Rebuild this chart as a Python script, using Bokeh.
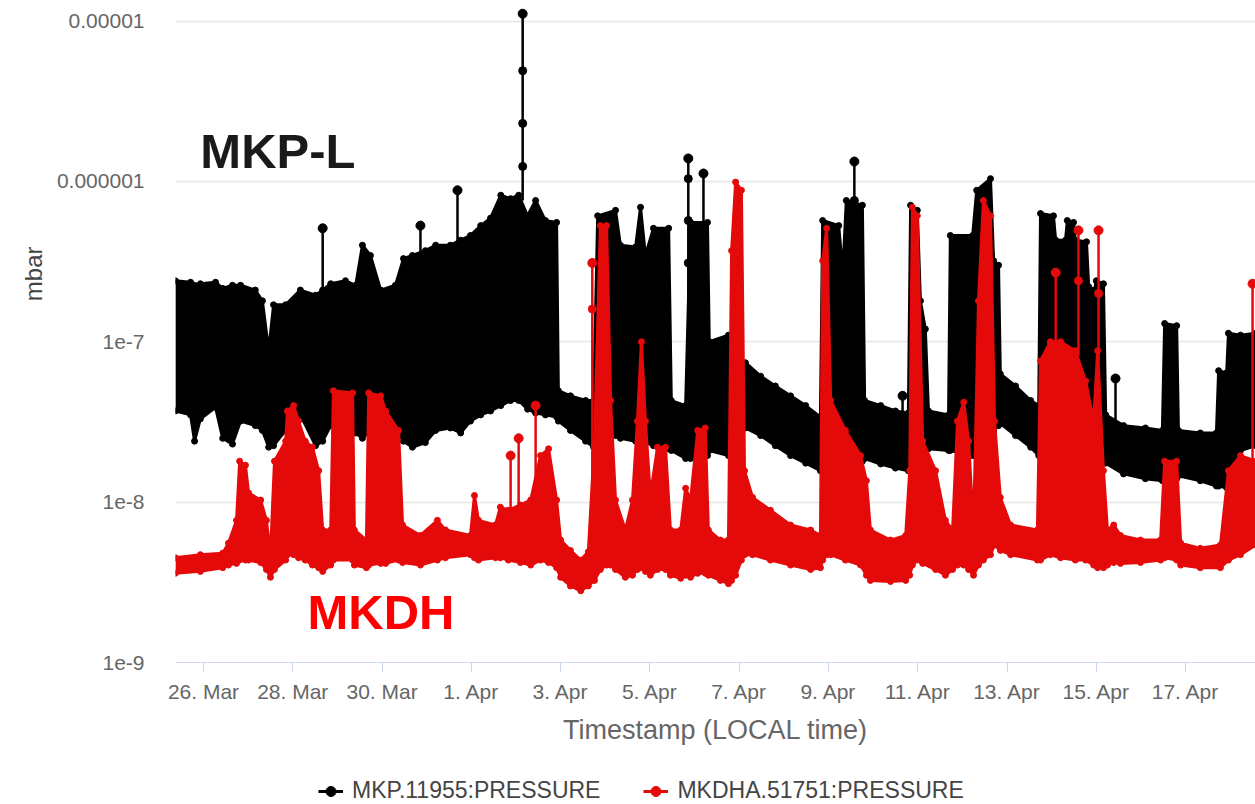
import numpy as np
import pandas as pd
from bokeh.plotting import figure
from bokeh.layouts import column
from bokeh.models import (ColumnDataSource, FixedTicker, Legend, LegendItem,
                          Range1d, Label, Title)
from bokeh.embed import file_html
from bokeh.resources import INLINE

# ---------------- data (time = days after 26 Mar 00:00, local time) ----------------
tick_days = [0, 2, 4, 6, 8, 10, 12, 14, 16, 18, 20, 22]
tick_labels = ["26. Mar", "28. Mar", "30. Mar", "1. Apr", "3. Apr", "5. Apr",
               "7. Apr", "9. Apr", "11. Apr", "13. Apr", "15. Apr", "17. Apr"]
y_ticks = [1e-9, 1e-8, 1e-7, 1e-6, 1e-5]
y_tick_labels = ["1e-9", "1e-8", "1e-7", "0.000001", "0.00001"]
series_names = ["MKP.11955:PRESSURE", "MKDHA.51751:PRESSURE"]

# MKP.11955:PRESSURE  (band envelope of the fast oscillation)
mkp_t = [-0.63, -0.29, -0.20, -0.07, 0.27, 0.43, 0.65, 0.83, 1.16, 1.32,
         1.46, 1.57, 1.84, 2.17, 2.51, 2.67, 2.85, 3.18, 3.41, 3.56,
         3.74, 3.97, 4.30, 4.48, 4.68, 4.97, 5.20, 5.53, 5.76, 5.98,
         6.21, 6.43, 6.66, 6.88, 7.06, 7.26, 7.44, 7.66, 7.91, 7.95,
         8.22, 8.56, 8.74, 8.83, 9.23, 9.34, 9.68, 9.79, 9.90, 10.08,
         10.42, 10.48, 10.80, 10.91, 11.29, 11.33, 11.76, 11.87, 12.14, 12.48,
         12.81, 13.15, 13.49, 13.82, 13.87, 14.23, 14.32, 14.40, 14.76, 14.81,
         15.17, 15.50, 15.79, 15.84, 15.99, 16.06, 16.17, 16.24, 16.69, 16.73,
         17.23, 17.32, 17.63, 17.70, 17.81, 17.85, 18.19, 18.53, 18.71, 18.75,
         19.04, 19.09, 19.31, 19.35, 19.49, 19.53, 19.78, 19.83, 19.96, 20.00,
         20.16, 20.21, 20.61, 21.10, 21.48, 21.53, 21.80, 21.84, 22.33, 22.69,
         22.74, 22.92, 22.96, 23.23, 23.57]
mkp_hi = [2.4e-7, 2.35e-7, 2.25e-7, 2.3e-7, 2.35e-7, 2.15e-7, 2.25e-7, 2.25e-7, 2.1e-7, 1.8e-7,
          8.8e-8, 1.7e-7, 1.7e-7, 2.1e-7, 1.95e-7, 2.1e-7, 2.3e-7, 2.4e-7, 2.25e-7, 4.0e-7,
          3.45e-7, 2.1e-7, 2.25e-7, 3.3e-7, 3.45e-7, 3.7e-7, 4.0e-7, 4.0e-7, 4.3e-7, 4.6e-7,
          5.3e-7, 5.9e-7, 8.2e-7, 7.8e-7, 8.2e-7, 6.1e-7, 7.6e-7, 5.7e-7, 5.55e-7, 4.95e-8,
          4.6e-8, 4.3e-8, 4.3e-8, 6.1e-7, 6.6e-7, 4.0e-7, 3.9e-7, 6.9e-7, 3.45e-7, 5.1e-7,
          5.1e-7, 4.3e-8, 4.0e-8, 5.55e-7, 5.55e-7, 1.0e-7, 1.1e-7, 7.6e-8, 7.4e-8, 6.1e-8,
          5.3e-8, 4.6e-8, 4.0e-8, 3.4e-8, 5.7e-7, 5.3e-7, 2.7e-7, 7.6e-7, 7.1e-7, 4.3e-8,
          4.0e-8, 3.7e-8, 3.6e-8, 7.1e-7, 6.6e-7, 1.8e-7, 1.2e-7, 3.7e-8, 3.5e-8, 4.6e-7,
          4.6e-7, 8.8e-7, 1.04e-6, 3.2e-7, 3.0e-7, 6.3e-8, 5.3e-8, 4.3e-8, 4.0e-8, 6.3e-7,
          6.1e-7, 4.3e-7, 4.3e-7, 5.7e-7, 5.55e-7, 4.3e-7, 4.2e-7, 2.2e-7, 2.1e-7, 2.4e-7,
          2.3e-7, 3.5e-8, 3.0e-8, 2.9e-8, 2.8e-8, 1.3e-7, 1.26e-7, 2.8e-8, 2.7e-8, 2.7e-8,
          6.6e-8, 6.4e-8, 1.13e-7, 1.1e-7, 1.13e-7]
mkp_lo = [3.7e-8, 3.5e-8, 2.4e-8, 3.3e-8, 3.9e-8, 2.5e-8, 2.3e-8, 3.2e-8, 3.0e-8, 2.8e-8,
          2.2e-8, 2.25e-8, 2.8e-8, 3.5e-8, 2.25e-8, 2.4e-8, 3.0e-8, 2.9e-8, 2.7e-8, 2.5e-8,
          2.8e-8, 3.0e-8, 2.9e-8, 2.4e-8, 2.2e-8, 2.35e-8, 2.8e-8, 2.9e-8, 2.7e-8, 3.2e-8,
          3.5e-8, 3.7e-8, 4.0e-8, 4.3e-8, 4.3e-8, 3.8e-8, 3.6e-8, 3.5e-8, 3.4e-8, 3.2e-8,
          2.8e-8, 2.4e-8, 2.2e-8, 2.4e-8, 2.6e-8, 2.5e-8, 2.4e-8, 2.4e-8, 2.35e-8, 2.25e-8,
          2.15e-8, 2.1e-8, 1.87e-8, 1.87e-8, 1.95e-8, 2.1e-8, 1.95e-8, 2.4e-8, 2.9e-8, 2.6e-8,
          2.25e-8, 1.95e-8, 1.75e-8, 1.57e-8, 1.57e-8, 1.7e-8, 1.7e-8, 1.75e-8, 1.8e-8, 1.87e-8,
          1.73e-8, 1.63e-8, 1.57e-8, 1.57e-8, 1.7e-8, 1.8e-8, 1.95e-8, 2.15e-8, 2.1e-8, 2.1e-8,
          1.95e-8, 1.95e-8, 2.4e-8, 2.8e-8, 3.0e-8, 3.1e-8, 2.6e-8, 2.2e-8, 1.95e-8, 1.95e-8,
          2.05e-8, 2.1e-8, 2.1e-8, 2.1e-8, 2.05e-8, 1.95e-8, 1.95e-8, 1.95e-8, 1.87e-8, 1.8e-8,
          1.8e-8, 1.75e-8, 1.5e-8, 1.4e-8, 1.36e-8, 1.4e-8, 1.4e-8, 1.46e-8, 1.36e-8, 1.26e-8,
          1.26e-8, 1.23e-8, 1.23e-8, 2.1e-8, 2.25e-8]
mkp_spike_t = [2.67, 4.86, 5.69, 7.15, 10.86, 11.20, 14.58, 15.66, 20.43]
mkp_spike_base = [2.1e-7, 3.5e-7, 4.2e-7, 7.6e-7, 4.3e-8, 5.55e-7, 7.1e-7, 3.7e-8, 3.2e-8]
mkp_spike_top = [5.1e-7, 5.3e-7, 8.8e-7, 1.11e-5, 1.39e-6, 1.12e-6, 1.33e-6, 4.6e-8, 5.9e-8]
# intermediate samples visible along the tallest spikes
mkp_mark_t = [7.15, 7.15, 7.15, 10.86, 10.86, 10.86, 14.58]
mkp_mark_v = [4.9e-6, 2.3e-6, 1.24e-6, 1.04e-6, 5.7e-7, 3.1e-7, 7.6e-7]

# MKDHA.51751:PRESSURE
mkdha_t = [-0.63, -0.07, 0.43, 0.56, 0.74, 0.81, 0.94, 1.01, 1.28, 1.41,
           1.50, 1.59, 1.84, 1.88, 2.02, 2.13, 2.28, 2.44, 2.58, 2.67,
           2.85, 2.91, 3.34, 3.38, 3.65, 3.70, 3.97, 4.08, 4.37, 4.46,
           4.86, 5.24, 5.42, 5.98, 6.07, 6.16, 6.54, 6.65, 6.83, 7.10,
           7.33, 7.55, 7.73, 7.91, 8.00, 8.22, 8.45, 8.62, 8.76, 8.89,
           9.03, 9.12, 9.23, 9.45, 9.61, 9.72, 9.81, 9.90, 10.01, 10.17,
           10.35, 10.46, 10.69, 10.80, 10.91, 11.07, 11.24, 11.31, 11.58, 11.76,
           11.83, 11.92, 12.05, 12.12, 12.30, 12.70, 13.15, 13.60, 13.82, 13.87,
           13.96, 14.05, 14.38, 14.72, 14.85, 14.94, 15.39, 15.73, 15.82, 15.88,
           15.99, 16.11, 16.40, 16.62, 16.78, 16.89, 17.03, 17.14, 17.25, 17.36,
           17.47, 17.63, 17.72, 17.85, 18.08, 18.68, 18.75, 18.97, 19.20, 19.53,
           19.76, 19.94, 20.03, 20.16, 20.25, 20.39, 20.54, 20.99, 21.44, 21.53,
           21.80, 21.89, 22.33, 22.78, 22.96, 23.23, 23.57]
mkdha_hi = [4.5e-9, 4.7e-9, 4.8e-9, 5.55e-9, 7.7e-9, 1.8e-8, 1.7e-8, 1.14e-8, 1.03e-8, 7.7e-9,
            4.7e-9, 1.8e-8, 2.4e-8, 3.7e-8, 4.0e-8, 3.2e-8, 2.4e-8, 2.2e-8, 1.57e-8, 6.7e-9,
            6.7e-9, 4.95e-8, 4.8e-8, 6.7e-9, 5.8e-9, 4.8e-8, 4.6e-8, 3.7e-8, 2.8e-8, 7.2e-9,
            6.2e-9, 7.7e-9, 6.7e-9, 6.2e-9, 1.1e-8, 7.7e-9, 7.2e-9, 9.3e-9, 8.9e-9, 9.6e-9,
            1.03e-8, 1.95e-8, 2.15e-8, 1.03e-8, 5.8e-9, 5.0e-9, 4.35e-9, 4.9e-9, 2.4e-8, 5.3e-7,
            5.3e-7, 4.3e-8, 1.03e-8, 6.7e-9, 1.03e-8, 3.2e-8, 1.0e-7, 3.2e-8, 1.1e-8, 2.2e-8,
            2.2e-8, 6.7e-9, 6.7e-9, 1.22e-8, 1.03e-8, 2.8e-8, 2.9e-8, 6.7e-9, 5.8e-9, 5.8e-9,
            3.7e-7, 9.9e-7, 8.8e-7, 1.57e-8, 1.07e-8, 8.9e-9, 7.2e-9, 6.7e-9, 6.2e-9, 3.2e-7,
            5.1e-7, 4.3e-8, 2.8e-8, 1.95e-8, 1.36e-8, 6.7e-9, 5.8e-9, 6.2e-9, 1.57e-8, 6.9e-7,
            6.1e-7, 2.4e-8, 1.57e-8, 7.7e-9, 6.7e-9, 3.2e-8, 4.2e-8, 2.4e-8, 6.7e-9, 1.8e-7,
            7.6e-7, 6.1e-7, 3.2e-8, 1.07e-8, 7.2e-9, 6.7e-9, 7.6e-8, 1.0e-7, 1.0e-7, 8.8e-8,
            5.7e-8, 3.2e-8, 8.8e-8, 1.57e-8, 6.7e-9, 7.2e-9, 6.2e-9, 5.8e-9, 5.8e-9, 1.8e-8,
            1.8e-8, 5.55e-9, 5.15e-9, 5.4e-9, 1.57e-8, 1.95e-8, 1.8e-8]
mkdha_lo = [3.6e-9, 3.7e-9, 3.9e-9, 4.05e-9, 4.15e-9, 4.35e-9, 4.35e-9, 4.35e-9, 4.2e-9, 3.8e-9,
            3.4e-9, 3.8e-9, 4.35e-9, 4.7e-9, 4.7e-9, 4.5e-9, 4.35e-9, 4.05e-9, 3.9e-9, 3.7e-9,
            4.05e-9, 4.35e-9, 4.35e-9, 4.05e-9, 3.9e-9, 4.05e-9, 4.15e-9, 4.15e-9, 4.35e-9, 4.2e-9,
            4.05e-9, 4.35e-9, 4.5e-9, 4.7e-9, 4.5e-9, 4.35e-9, 4.5e-9, 4.5e-9, 4.35e-9, 4.2e-9,
            4.05e-9, 4.35e-9, 4.2e-9, 3.9e-9, 3.4e-9, 3.0e-9, 2.8e-9, 3.0e-9, 3.25e-9, 3.8e-9,
            4.05e-9, 4.05e-9, 3.8e-9, 3.4e-9, 3.5e-9, 3.8e-9, 3.9e-9, 3.7e-9, 3.5e-9, 3.8e-9,
            3.8e-9, 3.5e-9, 3.35e-9, 3.5e-9, 3.4e-9, 3.6e-9, 3.6e-9, 3.5e-9, 3.25e-9, 3.1e-9,
            3.25e-9, 3.5e-9, 4.35e-9, 4.7e-9, 4.7e-9, 4.35e-9, 4.05e-9, 3.8e-9, 3.9e-9, 4.35e-9,
            4.7e-9, 4.7e-9, 4.35e-9, 4.05e-9, 3.5e-9, 3.25e-9, 3.2e-9, 3.25e-9, 3.5e-9, 4.05e-9,
            4.35e-9, 4.15e-9, 3.8e-9, 3.5e-9, 3.8e-9, 4.05e-9, 4.05e-9, 3.8e-9, 3.5e-9, 4.05e-9,
            4.35e-9, 4.7e-9, 5.4e-9, 5.0e-9, 4.7e-9, 4.35e-9, 4.35e-9, 4.7e-9, 4.5e-9, 4.35e-9,
            4.35e-9, 4.05e-9, 3.9e-9, 3.9e-9, 4.05e-9, 4.2e-9, 4.15e-9, 4.2e-9, 4.35e-9, 4.5e-9,
            4.35e-9, 4.05e-9, 3.9e-9, 3.9e-9, 4.35e-9, 4.7e-9, 5.4e-9]
mkdha_spike_t = [6.88, 7.06, 7.44, 8.71, 19.09, 19.60, 20.05, 23.50]
mkdha_spike_base = [8.9e-9, 9.3e-9, 1.0e-8, 4.7e-9, 1.0e-7, 8.2e-8, 7.6e-8, 1.8e-8]
mkdha_spike_top = [1.95e-8, 2.5e-8, 4.0e-8, 3.1e-7, 2.7e-7, 4.95e-7, 4.95e-7, 2.3e-7]
mkdha_mark_t = [8.71, 19.60, 20.05]
mkdha_mark_v = [1.6e-7, 2.4e-7, 2.0e-7]

assert len(mkp_t) == len(mkp_hi) == len(mkp_lo)
assert len(mkdha_t) == len(mkdha_hi) == len(mkdha_lo)

# ---------------- helpers ----------------
BASE = pd.Timestamp("2024-03-26 00:00")


def to_time(days):
    return BASE + pd.to_timedelta(np.asarray(days, dtype=float), unit="D")


def to_ms(days):
    return [float((BASE + pd.Timedelta(days=d)).value // 10**6) for d in days]


FONT = "Liberation Sans"
BLACK = "#000000"
RED = "#e50a0a"

p = figure(frame_width=1080, frame_height=662, x_axis_type="datetime", y_axis_type="log",
           x_range=Range1d(*to_time([-0.627, 23.566])),
           y_range=Range1d(1e-9, 10 ** -4.872),
           output_backend="svg", toolbar_location=None,
           min_border_left=175, min_border_right=0, min_border_top=0,
           min_border_bottom=0)
p.outline_line_color = None
p.background_fill_color = "white"
p.border_fill_color = "white"

# axes
xa = p.xaxis[0]
xa.ticker = FixedTicker(ticks=to_ms(tick_days))
xa.major_label_overrides = dict(zip(to_ms(tick_days), tick_labels))
xa.axis_line_color = "#ccd6eb"
xa.major_tick_line_color = "#ccd6eb"
xa.major_tick_out = 10
xa.major_tick_in = 0
xa.minor_tick_line_color = None
xa.major_label_text_font = FONT
xa.major_label_text_font_size = "21px"
xa.major_label_text_color = "#666666"
xa.major_label_standoff = 7
xa.axis_label = "Timestamp (LOCAL time)"
xa.axis_label_text_font = FONT
xa.axis_label_text_font_size = "27px"
xa.axis_label_text_font_style = "normal"
xa.axis_label_text_color = "#666666"
xa.axis_label_standoff = 9

ya = p.yaxis[0]
ya.ticker = FixedTicker(ticks=y_ticks)
ya.major_label_overrides = dict(zip(y_ticks, y_tick_labels))
ya.axis_line_color = None
ya.major_tick_line_color = None
ya.minor_tick_line_color = None
ya.major_label_text_font = FONT
ya.major_label_text_font_size = "21px"
ya.major_label_text_color = "#666666"
ya.major_label_standoff = 25

p.xgrid.visible = False
p.ygrid.grid_line_color = "#e6e6e6"
p.ygrid.grid_line_width = 1.5

# y axis title (placed like the original, above the middle of the axis)
p.add_layout(Title(text="mbar", align="right", offset=246, standoff=14,
                   text_font=FONT, text_font_size="24px", text_font_style="normal",
                   text_color="#444444"), "left")

# ---------------- series ----------------
def draw_series(t, hi, lo, st, sb, stop, mt, mv, color):
    src = ColumnDataSource(dict(t=to_time(t), hi=hi, lo=lo))
    p.varea(x="t", y1="lo", y2="hi", source=src, fill_color=color)
    p.line("t", "hi", source=src, line_color=color, line_width=3)
    p.line("t", "lo", source=src, line_color=color, line_width=3)
    p.scatter("t", "hi", source=src, size=6, fill_color=color, line_color=color)
    p.scatter("t", "lo", source=src, size=6, fill_color=color, line_color=color)
    ssrc = ColumnDataSource(dict(t=to_time(st), base=sb, top=stop))
    p.segment(x0="t", y0="base", x1="t", y1="top", source=ssrc,
              line_color=color, line_width=2.5)
    p.scatter("t", "top", source=ssrc, size=9, marker="circle",
              fill_color=color, line_color=color)
    msrc = ColumnDataSource(dict(t=to_time(mt), v=mv))
    p.scatter("t", "v", source=msrc, size=8, marker="circle",
              fill_color=color, line_color=color)


draw_series(mkp_t, mkp_hi, mkp_lo, mkp_spike_t, mkp_spike_base,
            mkp_spike_top, mkp_mark_t, mkp_mark_v, BLACK)
draw_series(mkdha_t, mkdha_hi, mkdha_lo, mkdha_spike_t, mkdha_spike_base,
            mkdha_spike_top, mkdha_mark_t, mkdha_mark_v, RED)

# ---------------- annotations ----------------
p.add_layout(Label(x=to_ms([-0.07])[0], y=1.55e-6, text="MKP-L",
                   text_font=FONT, text_font_style="bold", text_font_size="49px",
                   text_color="#1a1a1a", text_baseline="alphabetic"))
p.add_layout(Label(x=to_ms([2.33])[0], y=2.07e-9, text="MKDH",
                   text_font=FONT, text_font_style="bold", text_font_size="49px",
                   text_color="#ff0000", text_baseline="alphabetic"))

# ---------------- legend strip (own small canvas under the chart) ----------------
# The strip shows the same series, but its ranges keep them out of view, so only
# the legend (line + marker symbol per series) is visible.
q = figure(width=1255, height=57, output_backend="svg", toolbar_location=None,
           x_range=Range1d(0, 1), y_range=Range1d(0, 1),
           x_axis_location=None, y_axis_location=None,
           min_border_left=0, min_border_right=0, min_border_top=0, min_border_bottom=0)
q.outline_line_color = None
q.grid.visible = False
q.border_fill_color = "white"
items = []
for name, color, t, v in [(series_names[0], BLACK, mkp_t, mkp_hi),
                          (series_names[1], RED, mkdha_t, mkdha_hi)]:
    ms = to_ms(t)
    ln = q.line(x=ms, y=v, line_color=color, line_width=3)
    dt = q.scatter(x=ms, y=v, marker="circle", fill_color=color, line_color=color)
    items.append(LegendItem(label=name, renderers=[ln, dt]))
legend = Legend(items=items, orientation="horizontal", location=(143, 0),
                label_text_font=FONT, label_text_font_size="23px",
                label_text_color="#444444", border_line_color=None,
                background_fill_alpha=0, glyph_width=25, glyph_height=26,
                label_height=26, label_standoff=9, spacing=43, padding=0, margin=0)
q.add_layout(legend, "center")

layout = column(p, q, spacing=0)
open("out.html", "w").write(file_html(layout, INLINE))
